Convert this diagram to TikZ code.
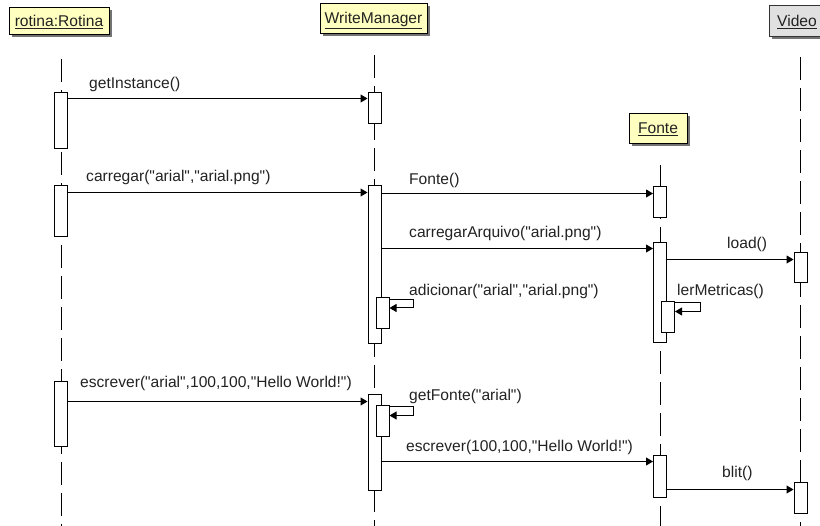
\documentclass[tikz,border=0pt]{standalone}
\usepackage{fontspec}
\newfontfamily\lsans{Liberation Sans}
\usetikzlibrary{arrows.meta,shadows,calc}
\definecolor{hdrfill}{HTML}{FFFFC0}
\definecolor{vidfill}{HTML}{E0E0E0}
\definecolor{txt}{HTML}{222222}
\begin{document}
\begin{tikzpicture}[x=1pt,y=-1pt,
  font=\lsans\fontsize{15.6}{18}\selectfont,
  hdr/.style={draw=black, line width=0.9pt, fill=hdrfill, text=txt, text height=12pt, text depth=0pt, inner sep=0pt,
    drop shadow={shadow xshift=3pt,shadow yshift=-3pt,fill=black!55,opacity=1}},
  life/.style={line width=1pt, dash pattern=on 23pt off 8pt},
  act/.style={draw, fill=white, line width=1pt, minimum width=13pt, inner sep=0pt},
  msg/.style={line width=1pt, -{Triangle[length=7pt,width=8pt]}},
  lbl/.style={anchor=base west, inner sep=0pt, text=txt}]
\useasboundingbox (0,0) rectangle (820,526);
% headers
\node[hdr, minimum width=100pt, minimum height=27pt] (rotH) at (59,20.5) {\underline{rotina:Rotina}};
\node[hdr, minimum width=107pt, minimum height=30pt] (wmH) at (373.5,18) {\underline{WriteManager}};
\node[hdr, minimum width=58pt, minimum height=30pt] (fonH) at (658,128) {\underline{Fonte}};
\node[hdr, fill=vidfill, draw=black!80, minimum width=56pt, minimum height=31pt] (vidH) at (797,20.5) {\underline{Video}};
% lifelines
\draw[life] (61,59) coordinate (rl0) -- (61,530) coordinate (rl1);
\draw[life] (374.5,55) coordinate (wl0) -- (374.5,530) coordinate (wl1);
\draw[life] (660,165) coordinate (fl0) -- (660,530) coordinate (fl1);
\draw[life] (800.5,57) coordinate (vl0) -- (800.5,530) coordinate (vl1);
% activations
\node[act, minimum height=56pt] (ra1) at (61,121) {};
\node[act, minimum height=51pt] (ra2) at (61,211.5) {};
\node[act, minimum height=65pt] (ra3) at (61,414.5) {};
\node[act, minimum height=31pt] (wa1) at (374.5,108.5) {};
\node[act, minimum height=158pt] (wa2) at (374.5,265) {};
\node[act, minimum height=31pt] (wn1) at (382.5,313.5) {};
\node[act, minimum height=96pt] (wa3) at (374.5,443) {};
\node[act, minimum height=31pt] (wn2) at (382.5,421.5) {};
\node[act, minimum height=31pt] (fa1) at (660,202.5) {};
\node[act, minimum height=100pt] (fa2) at (660,293) {};
\node[act, minimum height=31pt] (fn1) at (668,317.5) {};
\node[act, minimum height=42pt] (fa3) at (660,477) {};
\node[act, minimum height=30pt] (va1) at (800.5,268) {};
\node[act, minimum height=31pt] (va2) at (800.5,498.5) {};
% messages
\coordinate (c1) at ([yshift=-6pt]wa1.north west);
\draw[msg] (ra1.east |- c1) -- (c1);
\coordinate (c2) at ([yshift=-7pt]wa2.north west);
\draw[msg] (ra2.east |- c2) -- (c2);
\coordinate (c3) at ([yshift=-7pt]fa1.north west);
\draw[msg] (wa2.east |- c3) -- (c3);
\coordinate (c4) at ([yshift=-6pt]fa2.north west);
\draw[msg] (wa2.east |- c4) -- (c4);
\coordinate (c5) at ([yshift=-7pt]va1.north west);
\draw[msg] (fa2.east |- c5) -- (c5);
\coordinate (c6) at ([yshift=-7pt]wa3.north west);
\draw[msg] (ra3.east |- c6) -- (c6);
\coordinate (c7) at ([yshift=-6pt]fa3.north west);
\draw[msg] (wa3.east |- c7) -- (c7);
\coordinate (c8) at ([yshift=-7pt]va2.north west);
\draw[msg] (fa3.east |- c8) -- (c8);
% self calls
\draw[msg] ([yshift=-2pt]wn1.north east) -- ++(24,0) |- ([yshift=-10.5pt]wn1.north east);
\draw[msg] ([yshift=-1.5pt]fn1.north east) -- ++(25,0) |- ([yshift=-10pt]fn1.north east);
\draw[msg] ([yshift=-1.5pt]wn2.north east) -- ++(24,0) |- ([yshift=-10pt]wn2.north east);
% labels
\node[lbl] (l1) at (89,89) {getInstance()};
\node[lbl] (l2) at (86,182) {carregar("arial","arial.png")};
\node[lbl] (l3) at (409,185) {Fonte()};
\node[lbl] (l4) at (409,238) {carregarArquivo("arial.png")};
\node[lbl] (l5) at (727,249) {load()};
\node[lbl] (l6) at (409,295.5) {adicionar("arial","arial.png")};
\node[lbl] (l7) at (677,295.5) {lerMetricas()};
\node[lbl] (l8) at (80,387.5) {escrever("arial",100,100,"Hello World!")};
\node[lbl] (l9) at (409,400.5) {getFonte("arial")};
\node[lbl] (l10) at (406,451.5) {escrever(100,100,"Hello World!")};
\node[lbl] (l11) at (722,478) {blit()};
\end{tikzpicture}
\end{document}
